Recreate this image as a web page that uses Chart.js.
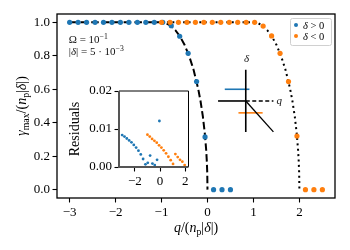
<!DOCTYPE html>
<html><head><meta charset="utf-8">
<script src="https://cdn.jsdelivr.net/npm/chart.js@4/dist/chart.umd.min.js"></script>
<style>
html,body{margin:0;padding:0;background:#fff;}
#wrap{position:relative;width:350px;height:250px;}
canvas{position:absolute;left:0;top:0;}
</style></head><body>
<div id="wrap"><canvas id="main" width="350" height="250"></canvas><canvas id="inset" width="350" height="250"></canvas></div>
<script>
// ---- data ----
const seriesLabels = ['δ > 0', 'δ < 0'];
const qPos = [-3, -2.816, -2.632, -2.447, -2.263, -2.079, -1.895, -1.711, -1.526, -1.342, -1.158, -0.974, -0.789, -0.605, -0.421, -0.237, -0.053, 0.132, 0.316, 0.5];
const gammaPos = [1, 1, 1, 1, 1, 1, 1, 1, 1, 1, 1, 1.0, 0.98, 0.917, 0.815, 0.646, 0.315, 0, 0, 0];
const qNeg = [-1, -0.816, -0.632, -0.447, -0.263, -0.079, 0.105, 0.289, 0.474, 0.658, 0.842, 1.026, 1.211, 1.395, 1.579, 1.763, 1.947, 2.132, 2.316, 2.5];
const gammaNeg = [1, 1, 1, 1, 1, 1, 1, 1, 1, 1, 1, 1.0, 0.978, 0.919, 0.815, 0.646, 0.32, 0, 0, 0];
// theory curves
const theoryPosQ = [-3, -1, -0.9, -0.8, -0.7, -0.6, -0.5, -0.4, -0.3, -0.2, -0.15, -0.1, -0.06, -0.03, -0.015, -0.005, 0];
const theoryPosG = [1, 1, 0.995, 0.980, 0.954, 0.917, 0.866, 0.800, 0.714, 0.600, 0.527, 0.436, 0.341, 0.243, 0.172, 0.100, 0];
const theoryNegQ = [-1, 1, 1.1, 1.2, 1.3, 1.4, 1.5, 1.6, 1.7, 1.8, 1.85, 1.9, 1.94, 1.97, 1.985, 1.995, 2];
const theoryNegG = [1, 1, 0.995, 0.980, 0.954, 0.917, 0.866, 0.800, 0.714, 0.600, 0.527, 0.436, 0.341, 0.243, 0.172, 0.100, 0];
// residuals (inset)
const residQPos = [-3, -2.816, -2.632, -2.447, -2.263, -2.079, -1.895, -1.711, -1.526, -1.342, -1.158, -0.974, -0.789, -0.605, -0.421, -0.237, -0.053];
const residPos = [0.0084, 0.0080, 0.0075, 0.0070, 0.0065, 0.0058, 0.0051, 0.0043, 0.0033, 0.0021, 0.0007, 0.0011, 0.0030, 0.0009, 0.0005, 0.0019, 0.0121];
const residQNeg = [-1, -0.816, -0.632, -0.447, -0.263, -0.079, 0.105, 0.289, 0.474, 0.658, 0.842, 1.026, 1.211, 1.395, 1.579, 1.763, 1.947];
const residNeg = [0.0085, 0.0080, 0.0074, 0.0069, 0.0064, 0.0057, 0.0051, 0.0044, 0.0036, 0.0027, 0.0018, 0.0008, 0.0034, 0.0026, 0.0019, 0.0014, 0.0005];
// ticks
const xTicksMain = [-3, -2, -1, 0, 1, 2];
const yTicksMain = [0, 0.2, 0.4, 0.6, 0.8, 1.0];
const xTicksInset = [-2, 0, 2];
const yTicksInset = [0, 0.01, 0.02];

// schematic (data units of main axes)
const schematic = {
  vertical: [[0.833, 0.717], [0.833, 0.345]],
  horizSolid: [[0.23, 0.53], [0.833, 0.53]],
  horizDashed: [[0.833, 0.53], [1.435, 0.53]],
  blueBar: [[0.376, 0.60], [0.913, 0.60]],
  orangeBar: [[0.674, 0.459], [1.2, 0.459]],
  diagonal: [[0.833, 0.53], [1.435, 0.345]],
  deltaLabel: [0.85, 0.765],
  qLabel: [1.56, 0.53]
};

const BLUE = '#1f77b4', ORANGE = '#ff7f0e';
const FAM = '"Liberation Serif", "DejaVu Serif", serif';
const zip = (xs, ys) => xs.map((x, i) => ({x, y: ys[i]}));
const pts = a => a.map(p => ({x: p[0], y: p[1]}));
const fmtMinus = v => (v < 0 ? '\u2212' + Math.abs(v) : String(v));

function drawRich(ctx, parts, x, y, size, align, color) {
  const seg = parts.map(([t, st]) => {
    const small = st.includes('b') || st.includes('p');
    const sz = small ? size * 0.7 : size;
    const font = (st.includes('i') ? 'italic ' : '') + sz + 'px ' + FAM;
    ctx.font = font;
    const dy = st.includes('b') ? size * 0.22 : st.includes('p') ? -size * 0.4 : 0;
    return {t, font, w: ctx.measureText(t).width, dy};
  });
  const total = seg.reduce((a, s) => a + s.w, 0);
  let cx = align === 'center' ? x - total / 2 : align === 'right' ? x - total : x;
  ctx.textAlign = 'left'; ctx.textBaseline = 'alphabetic';
  ctx.fillStyle = color || '#000';
  for (const s of seg) { ctx.font = s.font; ctx.fillText(s.t, cx, y + s.dy); cx += s.w; }
}

const axisCommon = (ticksArr, fmt) => ({
  type: 'linear',
  grid: {drawOnChartArea: false, drawTicks: true, tickLength: 4.5, tickColor: '#000', tickWidth: 1.1},
  border: {display: false},
  ticks: {font: {family: FAM, size: 13}, color: '#000', padding: 2.5, autoSkip: false, maxRotation: 0, callback: fmt},
  afterBuildTicks: s => { s.ticks = ticksArr.map(v => ({value: v})); }
});

// ---------- main chart ----------
const mainDecor = {
  id: 'mainDecor',
  beforeDraw(chart) {
    const c = chart.ctx; c.save(); c.fillStyle = '#fff'; c.fillRect(0, 0, chart.width, chart.height); c.restore();
  },
  afterDraw(chart) {
    const c = chart.ctx, a = chart.chartArea, xs = chart.scales.x, ys = chart.scales.y;
    c.save();
    c.strokeStyle = '#000'; c.lineWidth = 1.3;
    c.strokeRect(a.left, a.top, a.right - a.left, a.bottom - a.top);
    // annotations
    drawRich(c, [['Ω = 10', ''], ['\u22121', 'p']], xs.getPixelForValue(-3.02), ys.getPixelForValue(0.875), 11, 'left', '#111');
    drawRich(c, [['|', ''], ['δ', 'i'], ['| = 5 · 10', ''], ['\u22123', 'p']], xs.getPixelForValue(-3.02), ys.getPixelForValue(0.805), 11, 'left', '#111');
    // schematic labels
    drawRich(c, [['δ', 'i']], xs.getPixelForValue(schematic.deltaLabel[0]), ys.getPixelForValue(schematic.deltaLabel[1]), 11, 'center', '#111');
    drawRich(c, [['q', 'i']], xs.getPixelForValue(schematic.qLabel[0]), ys.getPixelForValue(schematic.qLabel[1]) + 3, 11, 'center', '#111');
    // axis titles
    drawRich(c, [['q', 'i'], ['/(', ''], ['n', 'i'], ['p', 'b'], ['|', ''], ['δ', 'i'], ['|)', '']], (a.left + a.right) / 2, 232, 14, 'center');
    c.translate(26, (a.top + a.bottom) / 2); c.rotate(-Math.PI / 2);
    drawRich(c, [['γ', 'i'], ['max', 'b'], ['/(', ''], ['n', 'i'], ['p', 'b'], ['|', ''], ['δ', 'i'], ['|)', '']], 0, 0, 14, 'center');
    c.restore();
    // legend
    c.save();
    const bw = 41, bh = 27, bx = a.right - 4 - bw, by = a.top + 4;
    c.fillStyle = 'rgba(255,255,255,0.8)'; c.strokeStyle = '#d0d0d0'; c.lineWidth = 1;
    c.beginPath(); c.roundRect(bx + 0.5, by + 0.5, bw, bh, 2); c.fill(); c.stroke();
    [BLUE, ORANGE].forEach((col, i) => {
      const yy = by + 7 + i * 11;
      c.fillStyle = col; c.beginPath(); c.arc(bx + 6, yy, 2, 0, Math.PI * 2); c.fill();
      const lab = seriesLabels[i];
      drawRich(c, [[lab.slice(0, 1), 'i'], [lab.slice(1), '']], bx + 13, yy + 3.5, 10.5, 'left', '#000');
    });
    c.restore();
  }
};

const lineDs = (data, color, width, dash) => ({type: 'scatter', data, showLine: true, borderColor: color, borderWidth: width, borderDash: dash, pointRadius: 0, fill: false, tension: 0, borderCapStyle: 'butt'});

new Chart(document.getElementById('main'), {
  type: 'scatter',
  data: {datasets: [
    {label: seriesLabels[1], data: zip(qNeg, gammaNeg), backgroundColor: ORANGE, borderColor: ORANGE, pointRadius: 2.6, borderWidth: 0},
    {label: seriesLabels[0], data: zip(qPos, gammaPos), backgroundColor: BLUE, borderColor: BLUE, pointRadius: 2.6, borderWidth: 0},
    lineDs(zip(theoryPosQ, theoryPosG), '#000', 2, [7.5, 3.3]),
    lineDs(zip(theoryNegQ, theoryNegG), '#000', 2, [2, 3.4]),
    lineDs(pts(schematic.vertical), '#000', 1.6, []),
    lineDs(pts(schematic.horizSolid), '#000', 1.6, []),
    lineDs(pts(schematic.horizDashed), '#000', 1.3, [4, 2.5]),
    lineDs(pts(schematic.diagonal), '#000', 1.3, []),
    lineDs(pts(schematic.blueBar), BLUE, 1.6, []),
    lineDs(pts(schematic.orangeBar), ORANGE, 1.6, [])
  ]},
  options: {
    responsive: false, animation: false, events: [],
    layout: {padding: {left: 0, top: 14, right: 15, bottom: 0}},
    plugins: {legend: {display: false}, tooltip: {enabled: false}},
    scales: {
      x: Object.assign(axisCommon(xTicksMain, v => fmtMinus(v)), {min: -3.275, max: 2.775, afterFit: s => { s.height = 52; }}),
      y: Object.assign(axisCommon(yTicksMain, v => v.toFixed(1)), {min: -0.05, max: 1.05, afterFit: s => { s.width = 57; }})
    }
  },
  plugins: [mainDecor]
});

// ---------- inset ----------
const insetDecor = {
  id: 'insetDecor',
  beforeDraw(chart) {
    const c = chart.ctx, a = chart.chartArea;
    c.save(); c.fillStyle = '#fff'; c.fillRect(a.left, a.top, a.right - a.left, a.bottom - a.top); c.restore();
  },
  afterDraw(chart) {
    const c = chart.ctx, a = chart.chartArea;
    c.save();
    c.strokeStyle = '#000'; c.lineWidth = 1;
    c.beginPath(); c.moveTo(a.left, a.top); c.lineTo(a.right, a.top); c.lineTo(a.right, a.bottom); c.stroke();
    c.strokeStyle = '#555'; c.lineWidth = 2;
    c.beginPath(); c.moveTo(a.left, a.top); c.lineTo(a.left, a.bottom); c.lineTo(a.right, a.bottom); c.stroke();
    c.translate(79, (a.top + a.bottom) / 2); c.rotate(-Math.PI / 2);
    drawRich(c, [['Residuals', '']], 0, 0, 14, 'center');
    c.restore();
  }
};

new Chart(document.getElementById('inset'), {
  type: 'scatter',
  data: {datasets: [
    {label: seriesLabels[1], data: zip(residQNeg, residNeg), backgroundColor: ORANGE, pointRadius: 1.4, borderWidth: 0},
    {label: seriesLabels[0], data: zip(residQPos, residPos), backgroundColor: BLUE, pointRadius: 1.4, borderWidth: 0}
  ]},
  options: {
    responsive: false, animation: false, events: [],
    layout: {padding: {left: 0, top: 91, right: 161.5, bottom: 0}},
    plugins: {legend: {display: false}, tooltip: {enabled: false}},
    scales: {
      x: Object.assign(axisCommon(xTicksInset, v => fmtMinus(v)), {min: -3.25, max: 2.25, afterFit: s => { s.height = 83; }}),
      y: Object.assign(axisCommon(yTicksInset, v => v.toFixed(2)), {min: 0, max: 0.02, afterFit: s => { s.width = 119; }})
    }
  },
  plugins: [insetDecor]
});
</script>
</body></html>
